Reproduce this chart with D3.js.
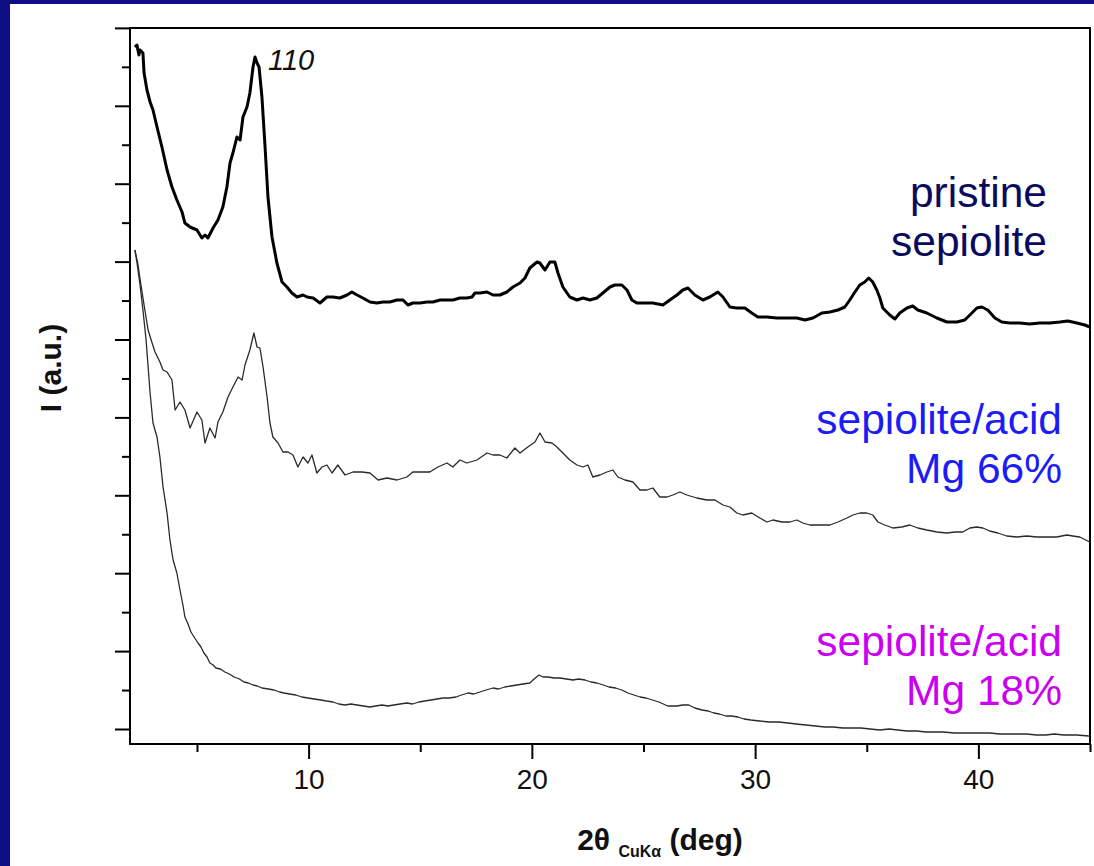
<!DOCTYPE html>
<html>
<head>
<meta charset="utf-8">
<script src="https://cdn.jsdelivr.net/npm/d3@7"></script>
<style>
  body { margin: 0; background: #0e0e86; }
  svg { display: block; }
  text { font-family: "Liberation Sans", Arial, sans-serif; }
</style>
</head>
<body>
<svg id="canvas"></svg>
<script>
// XRD patterns, 2theta (deg) vs intensity (a.u.)
const pristine = [
  [2.22,697],[2.31,699],[2.40,689],[2.45,694],[2.58,691],[2.63,671],[2.76,654],[2.90,642],[3.03,634],
  [3.21,617],[3.43,597],[3.66,574],[3.88,557],[4.10,544],[4.33,532],[4.46,521],[4.69,517],[5.00,514],
  [5.22,506],[5.36,509],[5.49,506],[5.72,516],[5.94,524],[6.16,537],[6.34,557],[6.48,581],[6.61,591],
  [6.79,607],[6.93,604],[7.06,627],[7.24,637],[7.37,651],[7.51,677],[7.60,687],[7.69,681],[7.78,677],
  [7.91,647],[8.05,597],[8.18,547],[8.36,507],[8.58,481],[8.81,462],[9.03,457],[9.25,451],[9.48,447],
  [9.75,449],[9.93,447],[10.20,446],[10.51,441],[10.82,447],[11.09,447],[11.40,446],[11.72,449],
  [11.94,452],[12.17,449],[12.43,446],[12.75,442],[13.06,441],[13.33,442],[13.64,442],[13.96,444],
  [14.23,444],[14.45,439],[14.67,441],[14.99,441],[15.30,442],[15.57,442],[15.89,444],[16.20,444],
  [16.46,444],[16.78,446],[17.09,446],[17.32,447],[17.45,451],[17.67,451],[17.99,452],[18.26,449],
  [18.57,449],[18.88,452],[19.15,457],[19.47,461],[19.69,466],[19.91,476],[20.23,482],[20.36,481],
  [20.59,474],[20.81,482],[21.03,482],[21.17,471],[21.39,457],[21.70,447],[22.02,444],[22.29,446],
  [22.60,444],[22.91,446],[23.18,451],[23.50,457],[23.72,459],[24.03,459],[24.26,454],[24.48,444],
  [24.70,441],[24.97,441],[25.42,441],[25.87,439],[26.18,444],[26.50,449],[26.76,454],[26.99,456],
  [27.30,449],[27.66,444],[27.97,447],[28.33,452],[28.56,447],[28.87,437],[29.18,436],[29.54,436],
  [29.85,431],[30.12,427],[30.53,427],[30.97,426],[31.42,426],[31.87,426],[32.23,424],[32.59,426],
  [32.99,431],[33.35,432],[33.71,434],[34.02,437],[34.24,444],[34.47,452],[34.69,459],[34.91,462],
  [35.09,466],[35.27,462],[35.45,454],[35.59,446],[35.72,436],[36.03,429],[36.26,425],[36.48,431],
  [36.80,436],[37.06,438],[37.29,434],[37.69,431],[38.14,426],[38.59,422],[39.04,422],[39.39,424],
  [39.71,431],[39.93,436],[40.15,437],[40.42,434],[40.74,426],[41.05,422],[41.41,421],[41.86,421],
  [42.30,420],[42.75,421],[43.20,421],[43.65,422],[44.01,423],[44.41,421],[44.77,419],[44.99,417]
];

const mg66 = [
  [2.22,494],[2.36,479],[2.49,459],[2.63,439],[2.81,414],[2.99,401],[3.12,392],[3.34,382],[3.48,374],
  [3.66,372],[3.88,364],[4.02,334],[4.24,342],[4.46,334],[4.69,316],[5.00,332],[5.22,324],[5.36,301],
  [5.58,316],[5.81,306],[5.94,322],[6.16,332],[6.39,347],[6.61,357],[6.84,367],[7.02,364],[7.15,379],
  [7.37,394],[7.55,411],[7.69,397],[7.82,396],[7.96,377],[8.14,347],[8.27,321],[8.40,307],[8.63,301],
  [8.85,292],[9.08,292],[9.30,289],[9.52,277],[9.75,287],[9.97,281],[10.15,289],[10.37,271],[10.60,277],
  [10.82,279],[11.05,271],[11.31,279],[11.63,269],[11.99,272],[12.39,272],[12.75,271],[13.11,264],
  [13.51,266],[13.96,264],[14.40,267],[14.67,272],[15.08,272],[15.43,272],[15.79,277],[16.20,281],
  [16.46,277],[16.78,284],[17.09,281],[17.54,284],[17.99,291],[18.26,289],[18.57,289],[18.88,286],
  [19.24,296],[19.47,291],[19.82,297],[20.14,302],[20.36,311],[20.59,302],[20.90,301],[21.12,297],
  [21.39,291],[21.70,284],[22.02,279],[22.29,277],[22.51,279],[22.73,267],[23.05,269],[23.36,272],
  [23.63,274],[23.85,267],[24.17,264],[24.53,262],[24.84,254],[25.15,254],[25.42,256],[25.73,247],
  [26.05,247],[26.32,249],[26.63,252],[26.94,249],[27.39,246],[27.84,244],[28.20,244],[28.56,239],
  [28.87,237],[29.18,231],[29.45,229],[29.85,231],[30.21,226],[30.53,222],[30.80,224],[31.20,222],
  [31.56,222],[31.87,224],[32.14,221],[32.45,219],[32.90,219],[33.35,219],[33.71,222],[34.11,226],
  [34.38,229],[34.69,231],[35.00,231],[35.27,229],[35.50,222],[35.81,219],[36.17,216],[36.57,217],
  [36.93,219],[37.29,216],[37.69,214],[38.14,212],[38.59,211],[38.95,212],[39.30,212],[39.62,216],
  [39.93,217],[40.20,216],[40.51,213],[40.87,211],[41.27,208],[41.72,207],[42.17,208],[42.62,207],
  [43.07,207],[43.51,207],[43.96,209],[44.23,208],[44.54,207],[44.99,202]
];

const mg18 = [
  [2.22,494],[2.31,482],[2.45,459],[2.58,434],[2.72,404],[2.90,351],[3.03,321],[3.21,307],[3.34,287],
  [3.48,257],[3.66,231],[3.79,204],[3.93,184],[4.10,171],[4.24,154],[4.37,139],[4.46,127],[4.60,120],
  [4.73,112],[4.90,106],[5.05,101],[5.18,97],[5.31,91],[5.45,87],[5.58,81],[5.72,79],[5.85,76],
  [6.05,75],[6.25,72],[6.45,70],[6.66,67],[6.90,65],[7.11,62],[7.30,61],[7.51,59],[7.70,58],[7.91,56],
  [8.20,55],[8.45,54],[8.70,52],[8.90,51],[9.15,50],[9.43,49],[9.70,47],[9.97,46],[10.25,45],[10.55,44],
  [10.80,43],[11.09,42],[11.35,40],[11.63,39],[11.90,40],[12.17,39],[12.45,38],[12.75,37],[13.00,38],
  [13.29,39],[13.55,38],[13.82,39],[14.10,40],[14.40,41],[14.65,40],[14.94,42],[15.20,43],[15.48,44],
  [15.75,45],[16.02,46],[16.30,46],[16.60,47],[16.85,49],[17.14,51],[17.40,50],[17.67,52],[17.95,54],
  [18.26,56],[18.50,55],[18.79,57],[19.05,58],[19.33,59],[19.60,60],[19.91,61],[20.10,65],[20.32,69],
  [20.50,67],[20.72,67],[21.00,66],[21.26,66],[21.55,65],[21.84,64],[22.10,65],[22.38,64],[22.65,62],
  [22.91,61],[23.20,59],[23.45,57],[23.75,56],[24.03,54],[24.30,51],[24.57,49],[24.85,47],[25.11,46],
  [25.40,44],[25.69,42],[26.09,38],[26.50,38],[26.75,39],[27.03,39],[27.30,36],[27.62,34],[27.90,33],
  [28.15,31],[28.40,30],[28.69,28],[28.95,28],[29.23,27],[29.50,25],[29.81,24],[30.20,23],[30.62,22],
  [31.05,22],[31.47,21],[31.85,20],[32.27,19],[32.70,18],[33.12,17],[33.50,17],[33.93,16],[34.35,16],
  [34.74,16],[35.15,15],[35.59,14],[36.00,15],[36.39,14],[36.80,13],[37.24,13],[37.65,12],[38.05,12],
  [38.45,12],[38.90,11],[39.30,11],[39.71,11],[40.10,11],[40.51,11],[40.95,10],[41.36,10],[41.75,10],
  [42.17,10],[42.60,9],[43.02,9],[43.40,10],[43.82,9],[44.40,9],[44.95,8]
];

const xMajorTicks = [10, 20, 30, 40];
const xMinorTicks = [5, 15, 25, 35, 45];
const yMajorTicks = [15, 92.9, 170.8, 248.7, 326.6, 404.5, 482.4, 560.3, 638.2, 716.1];
const yMinorTicks = [53.95, 131.85, 209.75, 287.65, 365.55, 443.45, 521.35, 599.25, 677.15];

const seriesLabels = [
  { lines: ['pristine', 'sepiolite'], color: '#0b0b5e', xr: 1047, base: 207 },
  { lines: ['sepiolite/acid', 'Mg 66%'], color: '#1c1cf5', xr: 1062, base: 434 },
  { lines: ['sepiolite/acid', 'Mg 18%'], color: '#cc00f0', xr: 1062, base: 656 }
];

const width = 1094;
const height = 866;
const svg = d3.select('#canvas').attr('width', width).attr('height', height);

// white slide panel
svg.append('rect').attr('x', 10).attr('y', 4).attr('width', width - 10).attr('height', height - 4).attr('fill', '#fff');

const x = d3.scaleLinear().domain([2, 45]).range([130, 1090]);
const y = d3.scaleLinear().domain([0, 716]).range([744, 28]);

const styleAxis = g => {
  g.select('.domain').remove();
  g.selectAll('line').attr('stroke', '#000').attr('stroke-width', 2);
};

svg.append('g').attr('transform', 'translate(0,744)')
  .call(d3.axisBottom(x).tickValues(xMajorTicks).tickSize(15).tickPadding(10).tickFormat(d3.format('d')))
  .call(styleAxis)
  .call(g => g.selectAll('text').attr('font-size', 28).attr('fill', '#111')
    .attr('font-family', '"Liberation Sans", Arial, sans-serif'));

svg.append('g').attr('transform', 'translate(0,744)')
  .call(d3.axisBottom(x).tickValues(xMinorTicks).tickSize(8).tickFormat(''))
  .call(styleAxis);

svg.append('g').attr('transform', 'translate(130,0)')
  .call(d3.axisLeft(y).tickValues(yMajorTicks).tickSize(15).tickFormat(''))
  .call(styleAxis);

svg.append('g').attr('transform', 'translate(130,0)')
  .call(d3.axisLeft(y).tickValues(yMinorTicks).tickSize(8).tickFormat(''))
  .call(styleAxis);

// frame
svg.append('rect')
  .attr('x', x(2)).attr('y', y(716))
  .attr('width', x(45) - x(2)).attr('height', y(0) - y(716))
  .attr('fill', 'none').attr('stroke', '#000').attr('stroke-width', 2);

const line = d3.line().x(d => x(d[0])).y(d => y(d[1]));

svg.append('path').datum(mg18).attr('d', line)
  .attr('fill', 'none').attr('stroke', '#2a2a2a').attr('stroke-width', 1.3).attr('stroke-linejoin', 'round');
svg.append('path').datum(mg66).attr('d', line)
  .attr('fill', 'none').attr('stroke', '#2a2a2a').attr('stroke-width', 1.3).attr('stroke-linejoin', 'round');
svg.append('path').datum(pristine).attr('d', line)
  .attr('fill', 'none').attr('stroke', '#000').attr('stroke-width', 3).attr('stroke-linejoin', 'round');

// peak index
svg.append('text').attr('x', x(7.6) + 13).attr('y', 70)
  .attr('font-size', 29).attr('font-style', 'italic').attr('fill', '#111').text('110');

// series labels
seriesLabels.forEach(s => {
  s.lines.forEach((t, i) => {
    svg.append('text').attr('x', s.xr).attr('y', s.base + i * 49)
      .attr('text-anchor', 'end').attr('font-size', 42.5).attr('fill', s.color).text(t);
  });
});

// axis titles
const xt = svg.append('text').attr('x', 660).attr('y', 850)
  .attr('text-anchor', 'middle').attr('font-weight', 'bold').attr('font-size', 30).attr('fill', '#111');
xt.append('tspan').text('2θ ');
xt.append('tspan').attr('font-size', 16).attr('dy', 7).text('CuKα');
xt.append('tspan').attr('dy', -7).text(' (deg)');

svg.append('text').attr('transform', 'translate(61,368) rotate(-90)')
  .attr('text-anchor', 'middle').attr('font-weight', 'bold').attr('font-size', 30).attr('fill', '#111')
  .text('I (a.u.)');
</script>
</body>
</html>
